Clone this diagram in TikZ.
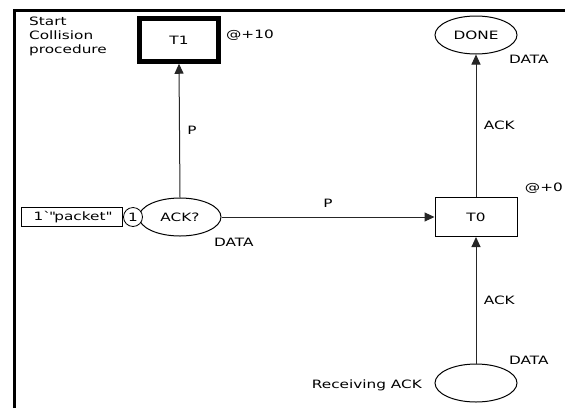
\documentclass[tikz,border=0pt]{standalone}
\usepackage{fontspec}
\setmainfont{DejaVu Sans}[FakeStretch=1.33]
\usetikzlibrary{arrows.meta,shapes.geometric}

\begin{document}
\begin{tikzpicture}[x=1pt, y=-1pt, font=\fontsize{11.5}{14}\selectfont,
  place/.style={draw, ellipse, line width=1pt, minimum width=82pt, minimum height=38pt, inner sep=0pt},
  trans/.style={draw, rectangle, line width=1pt, minimum width=82pt, minimum height=39pt, inner sep=0pt},
  token/.style={draw, circle, line width=0.8pt, minimum size=19pt, inner sep=0pt, fill=white},
  mark box/.style={draw, rectangle, line width=0.8pt, minimum height=19pt, inner sep=2pt},
  arc/.style={-{Triangle[length=10pt, width=9pt]}, line width=1pt, draw=black!85},
  lab/.style={inner sep=0pt}]
\useasboundingbox (0,0) rectangle (565,408);
% frame
\draw[line width=3pt] (14,408) -- (14,10) -- (565,10);
% places
\node[place] (ack) at (180,217) {ACK?};
\node[place] (done) at (476,35) {DONE};
\node[place] (recv) at (476,383) {};
% transitions
\node[trans, line width=4.5pt, minimum width=79pt, minimum height=43pt] (t1) at (179,40) {T1};
\node[trans] (t0) at (476,217) {T0};
% initial marking of ACK?
\node[token] (tok) at (133,217) {1};
\node[mark box, anchor=east, minimum width=101pt] (pkt) at (tok.west) {1\textasciigrave\textquotedbl packet\textquotedbl};
% inscriptions
\node[lab, anchor=north west, align=left] (start) at (29,17) {Start\\Collision\\procedure};
\node[lab, anchor=west] (d1) at (226,35) {@+10};
\node[lab, anchor=east] (d0) at (563,188) {@+0};
\node[lab, anchor=west] (cack) at (214,242) {DATA};
\node[lab, anchor=west] (cdone) at (509,59) {DATA};
\node[lab, anchor=west] (crecv) at (509,360) {DATA};
\node[lab, anchor=east] (nrecv) at (422,385) {Receiving ACK};
% arcs
\draw[arc] (ack.north) -- node[right=4pt] {P} (t1.south);
\draw[arc] (ack.east) -- node[above=6pt] {P} (t0.west);
\draw[arc] (t0.north) -- node[right=4pt] {ACK} (done.south);
\draw[arc] (recv.north) -- node[right=4pt] {ACK} (t0.south);
\end{tikzpicture}
\end{document}
